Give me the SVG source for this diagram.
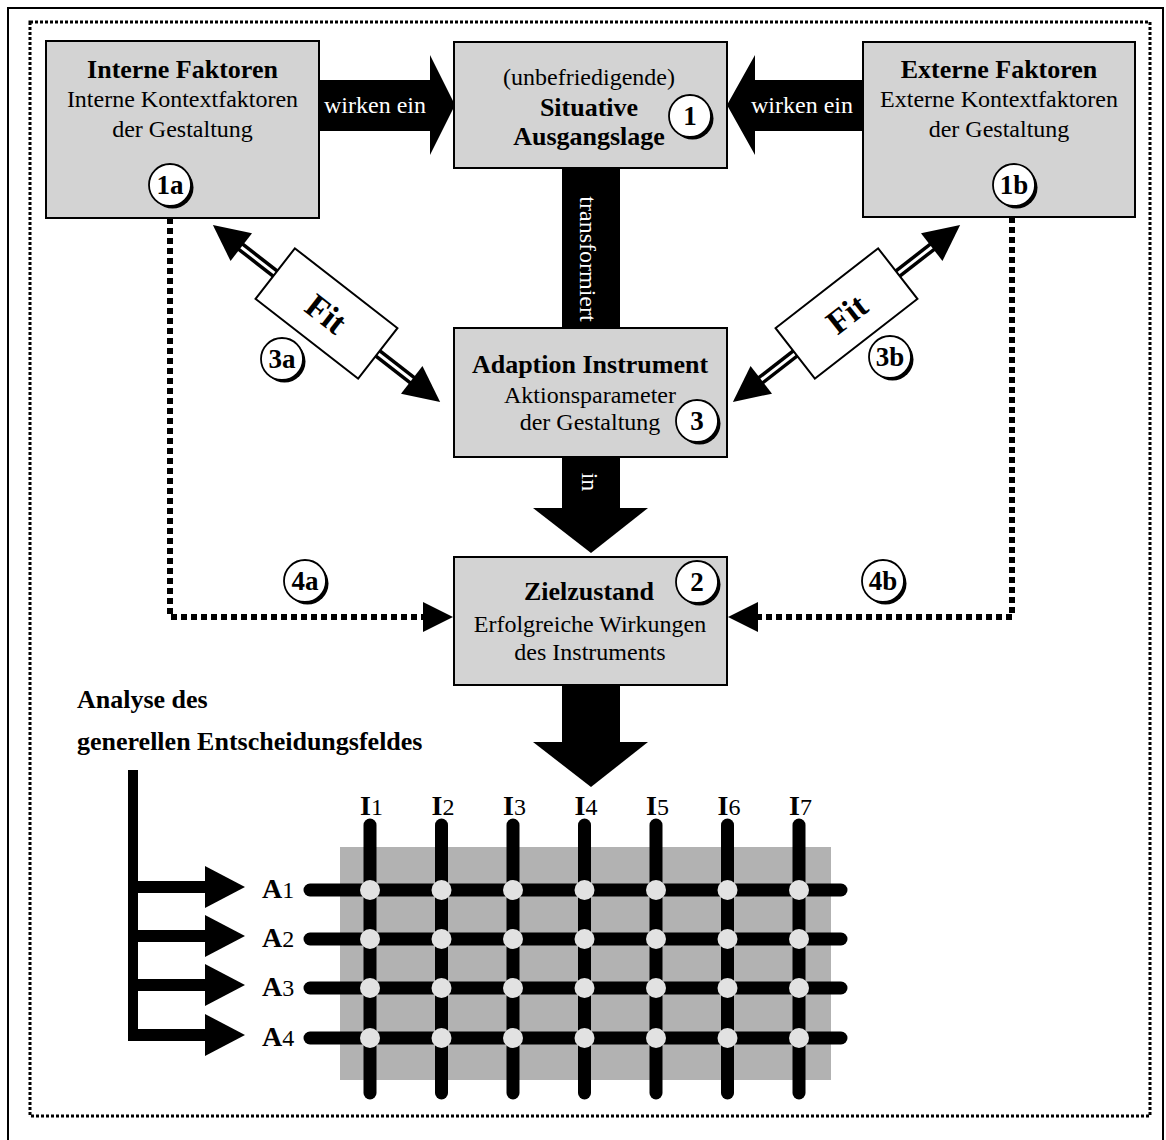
<svg xmlns="http://www.w3.org/2000/svg" width="1166" height="1140" viewBox="0 0 1166 1140">
  <defs>
    <style>
      text { font-family: "Liberation Serif", "Times New Roman", serif; }
      .box { fill: #d3d3d3; stroke: #000; stroke-width: 2; }
      .t { font-size: 26px; font-weight: bold; text-anchor: middle; fill: #000; }
      .s { font-size: 24px; text-anchor: middle; fill: #000; }
      .w { font-size: 24px; text-anchor: middle; fill: #fff; }
      .num { font-size: 27px; font-weight: bold; text-anchor: middle; fill: #000; }
      .dot { fill: none; stroke: #000; stroke-width: 6; stroke-dasharray: 6 4; }
      .shaft-o { stroke: #000; stroke-width: 10; }
      .shaft-i { stroke: #fff; stroke-width: 3; }
      .fitbox { fill: #fff; stroke: #000; stroke-width: 2; }
      .fit { font-size: 34px; font-weight: bold; text-anchor: middle; fill: #000; }
      .gv { stroke: #000; stroke-width: 13; stroke-linecap: round; }
      .gn { fill: #e2e2e2; }
      .lab { font-size: 28px; font-weight: bold; fill: #000; }
      .head { font-size: 26px; font-weight: bold; fill: #000; }
      .sub { font-size: 24px; font-weight: normal; }
    </style>
    <!-- numbered marker: white disc with a dark crescent shadow -->
    <g id="badge">
      <circle cx="2.5" cy="2.5" r="21" fill="#000"/>
      <circle cx="0" cy="0" r="21" fill="#fff" stroke="#000" stroke-width="1.8"/>
    </g>
  </defs>

  <rect width="1166" height="1140" fill="#fff"/>

  <!-- frames -->
  <rect x="8" y="8" width="1155" height="1160" fill="none" stroke="#000" stroke-width="2"/>
  <rect x="30" y="22" width="1120" height="1094" fill="none" stroke="#000" stroke-width="3" stroke-dasharray="3 2"/>

  <!-- connectors -->
  <g id="connectors">
    <!-- wirken ein (left) -->
    <polygon points="319,80 430,80 430,55 455,105 430,155 430,131 319,131" fill="#000"/>
    <text class="w" x="375" y="113">wirken ein</text>
    <!-- wirken ein (right) -->
    <polygon points="863,80 755,80 755,55 727,105 755,155 755,131 863,131" fill="#000"/>
    <text class="w" x="802" y="113">wirken ein</text>

    <!-- transformiert -->
    <rect x="562" y="168" width="58" height="160" fill="#000"/>
    <text class="w" transform="translate(580,259) rotate(90)" x="0" y="0">transformiert</text>

    <!-- in -->
    <rect x="562" y="457" width="58" height="52" fill="#000"/>
    <polygon points="533,508 648,508 591,553" fill="#000"/>
    <text class="w" transform="translate(582,482) rotate(90)" x="0" y="0">in</text>

    <!-- down to decision field -->
    <rect x="562" y="685" width="58" height="58" fill="#000"/>
    <polygon points="533,742 648,742 591,787" fill="#000"/>

    <!-- dotted links 4a / 4b -->
    <polyline class="dot" points="170,218 170,617 424,617"/>
    <polygon points="423,602 453,617 423,632" fill="#000"/>
    <polyline class="dot" points="1012,217 1012,617 757,617"/>
    <polygon points="758,602 728,617 758,632" fill="#000"/>

    <!-- Fit (left) -->
    <g transform="translate(326.5,313.5) rotate(37.9)">
      <line class="shaft-o" x1="-112" y1="0" x2="112" y2="0"/>
      <line class="shaft-i" x1="-112" y1="0" x2="112" y2="0"/>
      <polygon points="-144,0 -108,-17.5 -108,17.5" fill="#000"/>
      <polygon points="144,0 108,-17.5 108,17.5" fill="#000"/>
      <rect class="fitbox" x="-65" y="-32" width="130" height="64"/>
      <text class="fit" x="0" y="12">Fit</text>
    </g>
    <!-- Fit (right) -->
    <g transform="translate(846.5,313.5) rotate(-37.9)">
      <line class="shaft-o" x1="-112" y1="0" x2="112" y2="0"/>
      <line class="shaft-i" x1="-112" y1="0" x2="112" y2="0"/>
      <polygon points="-144,0 -108,-17.5 -108,17.5" fill="#000"/>
      <polygon points="144,0 108,-17.5 108,17.5" fill="#000"/>
      <rect class="fitbox" x="-65" y="-32" width="130" height="64"/>
      <text class="fit" x="0" y="12">Fit</text>
    </g>
  </g>

  <!-- nodes -->
  <g id="interne-faktoren">
    <rect class="box" x="46" y="41" width="273" height="177"/>
    <text class="t" x="182.5" y="78">Interne Faktoren</text>
    <text class="s" x="182.5" y="107">Interne Kontextfaktoren</text>
    <text class="s" x="182.5" y="137">der Gestaltung</text>
    <use href="#badge" x="170" y="185"/>
    <text class="num" x="170" y="194">1a</text>
  </g>

  <g id="situative-ausgangslage">
    <rect class="box" x="454" y="42" width="273" height="126"/>
    <text class="s" x="589" y="85">(unbefriedigende)</text>
    <text class="t" x="589" y="116">Situative</text>
    <text class="t" x="589" y="145">Ausgangslage</text>
    <use href="#badge" x="690" y="116"/>
    <text class="num" x="690" y="125">1</text>
  </g>

  <g id="externe-faktoren">
    <rect class="box" x="863" y="42" width="272" height="175"/>
    <text class="t" x="999" y="78">Externe Faktoren</text>
    <text class="s" x="999" y="107">Externe Kontextfaktoren</text>
    <text class="s" x="999" y="137">der Gestaltung</text>
    <use href="#badge" x="1014" y="185"/>
    <text class="num" x="1014" y="194">1b</text>
  </g>

  <g id="adaption-instrument">
    <rect class="box" x="454" y="328" width="273" height="129"/>
    <text class="t" x="590" y="373">Adaption Instrument</text>
    <text class="s" x="590" y="403">Aktionsparameter</text>
    <text class="s" x="590" y="430">der Gestaltung</text>
    <use href="#badge" x="697" y="421"/>
    <text class="num" x="697" y="430">3</text>
  </g>

  <g id="zielzustand">
    <rect class="box" x="454" y="557" width="273" height="128"/>
    <text class="t" x="589" y="600">Zielzustand</text>
    <text class="s" x="590" y="632">Erfolgreiche Wirkungen</text>
    <text class="s" x="590" y="660">des Instruments</text>
    <use href="#badge" x="697" y="582"/>
    <text class="num" x="697" y="591">2</text>
  </g>

  <g id="badge-3a">
    <use href="#badge" x="282" y="359"/>
    <text class="num" x="282" y="368">3a</text>
  </g>
  <g id="badge-3b">
    <use href="#badge" x="890" y="357"/>
    <text class="num" x="890" y="366">3b</text>
  </g>
  <g id="badge-4a">
    <use href="#badge" x="305" y="581"/>
    <text class="num" x="305" y="590">4a</text>
  </g>
  <g id="badge-4b">
    <use href="#badge" x="883" y="581"/>
    <text class="num" x="883" y="590">4b</text>
  </g>

  <!-- decision field -->
  <g id="entscheidungsfeld">
    <text class="head" x="77" y="708">Analyse des</text>
    <text class="head" x="77" y="750">generellen Entscheidungsfeldes</text>

    <!-- bracket with four arrows -->
    <rect x="128" y="770" width="10" height="271" fill="#000"/>
    <rect x="128" y="881" width="80" height="12" fill="#000"/>
    <rect x="128" y="930" width="80" height="12" fill="#000"/>
    <rect x="128" y="979" width="80" height="12" fill="#000"/>
    <rect x="128" y="1029" width="80" height="12" fill="#000"/>
    <polygon points="205,866 245,887 205,908" fill="#000"/>
    <polygon points="205,915 245,936 205,957" fill="#000"/>
    <polygon points="205,964 245,985 205,1006" fill="#000"/>
    <polygon points="205,1014 245,1035 205,1056" fill="#000"/>

    <rect x="340" y="847" width="491" height="233" fill="#b2b2b2"/>

    <g class="gv">
      <line x1="370" y1="825" x2="370" y2="1093"/>
      <line x1="441.5" y1="825" x2="441.5" y2="1093"/>
      <line x1="513" y1="825" x2="513" y2="1093"/>
      <line x1="584.5" y1="825" x2="584.5" y2="1093"/>
      <line x1="656" y1="825" x2="656" y2="1093"/>
      <line x1="727.5" y1="825" x2="727.5" y2="1093"/>
      <line x1="799" y1="825" x2="799" y2="1093"/>
      <line x1="310" y1="890" x2="841" y2="890"/>
      <line x1="310" y1="939" x2="841" y2="939"/>
      <line x1="310" y1="988" x2="841" y2="988"/>
      <line x1="310" y1="1038" x2="841" y2="1038"/>
    </g>

    <g class="gn">
      <circle cx="370" cy="890" r="10"/><circle cx="441.5" cy="890" r="10"/><circle cx="513" cy="890" r="10"/><circle cx="584.5" cy="890" r="10"/><circle cx="656" cy="890" r="10"/><circle cx="727.5" cy="890" r="10"/><circle cx="799" cy="890" r="10"/>
      <circle cx="370" cy="939" r="10"/><circle cx="441.5" cy="939" r="10"/><circle cx="513" cy="939" r="10"/><circle cx="584.5" cy="939" r="10"/><circle cx="656" cy="939" r="10"/><circle cx="727.5" cy="939" r="10"/><circle cx="799" cy="939" r="10"/>
      <circle cx="370" cy="988" r="10"/><circle cx="441.5" cy="988" r="10"/><circle cx="513" cy="988" r="10"/><circle cx="584.5" cy="988" r="10"/><circle cx="656" cy="988" r="10"/><circle cx="727.5" cy="988" r="10"/><circle cx="799" cy="988" r="10"/>
      <circle cx="370" cy="1038" r="10"/><circle cx="441.5" cy="1038" r="10"/><circle cx="513" cy="1038" r="10"/><circle cx="584.5" cy="1038" r="10"/><circle cx="656" cy="1038" r="10"/><circle cx="727.5" cy="1038" r="10"/><circle cx="799" cy="1038" r="10"/>
    </g>

    <!-- instrument labels -->
    <text class="lab" x="360" y="815">I<tspan class="sub">1</tspan></text>
    <text class="lab" x="431.5" y="815">I<tspan class="sub">2</tspan></text>
    <text class="lab" x="503" y="815">I<tspan class="sub">3</tspan></text>
    <text class="lab" x="574.5" y="815">I<tspan class="sub">4</tspan></text>
    <text class="lab" x="646" y="815">I<tspan class="sub">5</tspan></text>
    <text class="lab" x="717.5" y="815">I<tspan class="sub">6</tspan></text>
    <text class="lab" x="789" y="815">I<tspan class="sub">7</tspan></text>

    <!-- alternative labels -->
    <text class="lab" x="262" y="898">A<tspan class="sub">1</tspan></text>
    <text class="lab" x="262" y="947">A<tspan class="sub">2</tspan></text>
    <text class="lab" x="262" y="996">A<tspan class="sub">3</tspan></text>
    <text class="lab" x="262" y="1046">A<tspan class="sub">4</tspan></text>
  </g>
</svg>
